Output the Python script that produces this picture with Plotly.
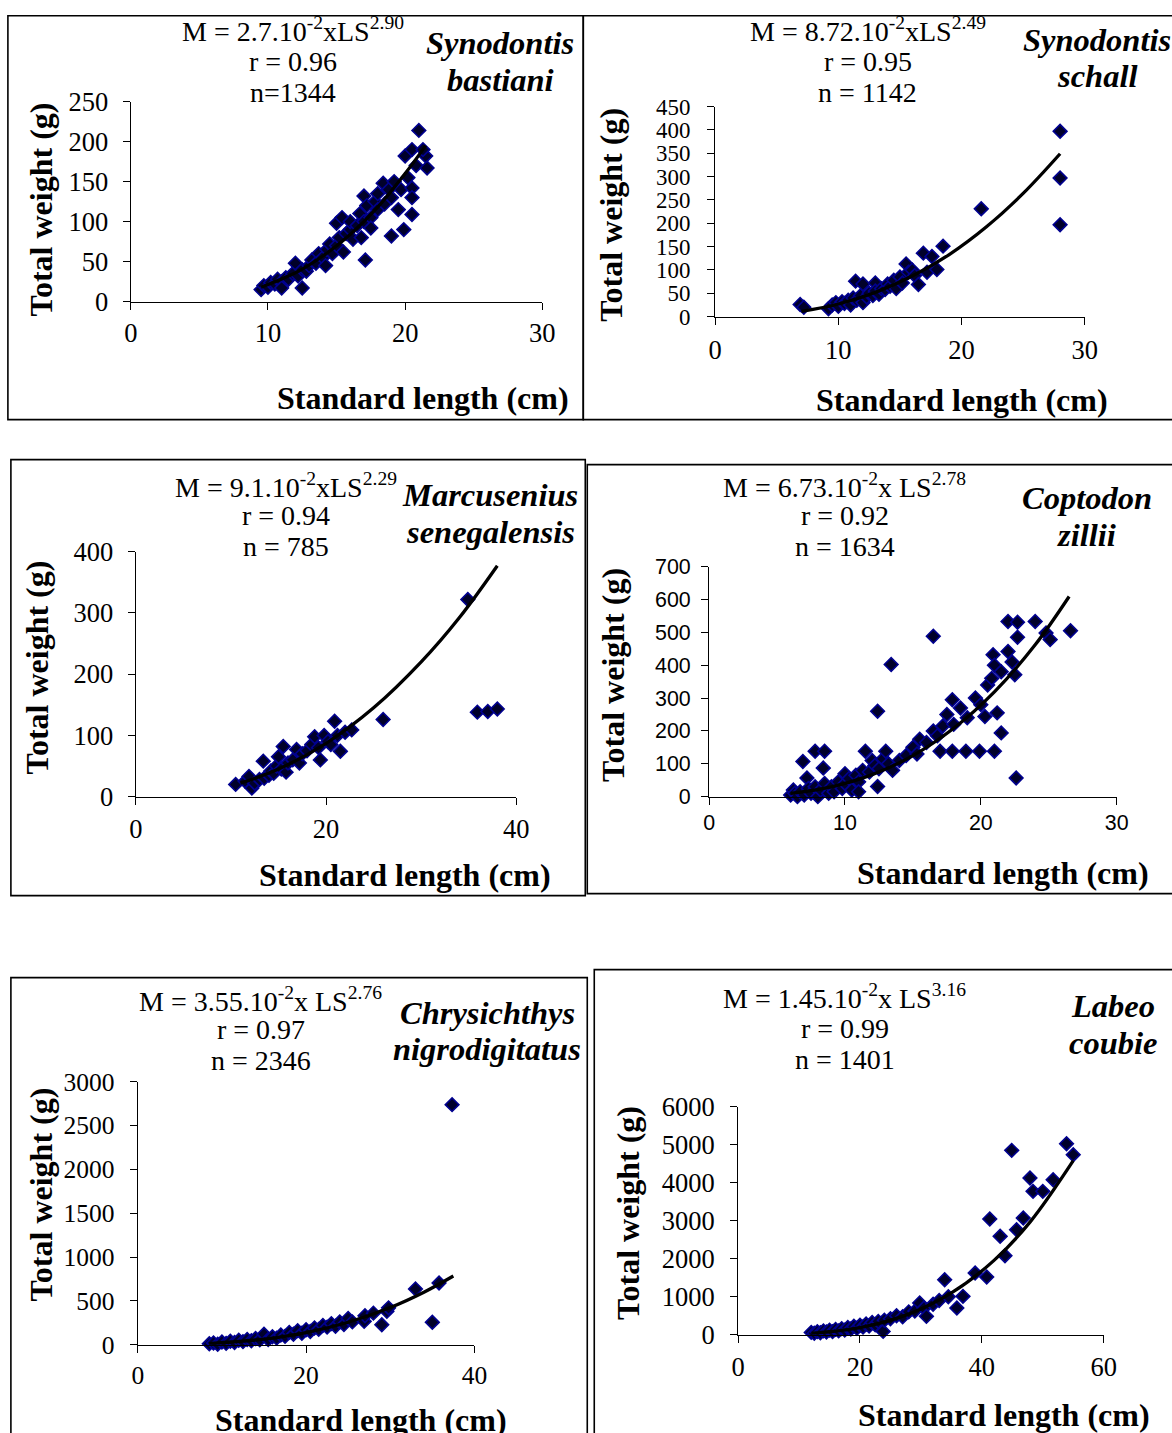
import plotly.graph_objects as go

W, H = 1172, 1433

# ---------------- DATA ----------------
# Panel 1: Synodontis bastiani
p1_x = [9.5, 9.7, 10.0, 10.2, 10.5, 10.7, 11.0, 11.0, 11.3, 11.5, 11.8, 12.0, 12.2, 12.5, 12.5, 12.8, 13.0, 13.2,
        13.5, 13.7, 14.0, 14.2, 14.3, 14.5, 14.7, 15.0, 15.0, 15.2, 15.4, 15.5, 15.7, 16.0, 16.0, 16.2, 16.5, 16.7,
        16.8, 17.0, 17.0, 17.1, 17.2, 17.5, 17.5, 17.8, 18.0, 18.0, 18.4, 18.5, 18.8, 19.0, 19.0, 19.2, 19.5, 19.7,
        19.9, 20.0, 20.2, 20.5, 20.5, 20.5, 20.5, 20.8, 21.0, 21.5, 21.6, 21.3]
p1_y = [15, 20, 18, 24, 22, 28, 25, 17, 30, 28, 35, 48, 32, 17, 40, 38, 45, 52,
        48, 60, 55, 45, 65, 72, 60, 70, 98, 80, 105, 62, 85, 90, 100, 78, 95, 110,
        80, 132, 100, 52, 120, 105, 92, 125, 115, 135, 148, 122, 140, 82, 130, 150, 115, 140,
        90, 182, 155, 190, 142, 130, 109, 170, 214, 182, 167, 190]
p1_fit_x = [9.5, 12, 14, 16, 18, 20, 21.5]
p1_fit_y = [18, 36, 57, 84, 118, 160, 195]

# Panel 2: Synodontis schall
p2_x = [6.9, 7.2, 9.2, 9.5, 9.8, 10.0, 10.3, 10.5, 10.8, 11.0, 11.2, 11.4, 11.5, 11.8, 12.0, 12.0, 12.3, 12.5,
        12.8, 13.0, 13.0, 13.3, 13.5, 13.8, 14.0, 14.2, 14.5, 14.7, 15.0, 15.2, 15.5, 15.7, 16.0, 16.2, 16.5,
        16.9, 17.2, 17.6, 18.0, 18.5, 21.6, 28.0, 28.0, 28.0]
p2_y = [26, 20, 17, 25, 30, 22, 32, 28, 35, 25, 40, 76, 35, 45, 70, 30, 42, 50,
        45, 72, 55, 48, 60, 58, 70, 65, 78, 60, 85, 72, 113, 95, 100, 88, 69,
        136, 95, 129, 101, 151, 231, 397, 297, 197]
p2_fit_x = [7, 10, 13, 16, 19, 22, 25, 28]
p2_fit_y = [11, 27, 52, 87, 133, 192, 264, 349]

# Panel 3: Marcusenius senegalensis
p3_x = [10.5, 11.5, 11.9, 12.2, 12.5, 13.0, 13.4, 13.5, 14.0, 14.2, 14.5, 14.8, 15.0, 15.3, 15.5, 15.8, 16.0,
        16.5, 16.9, 17.2, 17.5, 18.0, 18.5, 18.8, 19.2, 19.4, 19.8, 20.2, 20.5, 20.9, 21.2, 21.5, 22.0, 22.7,
        26.0, 34.9, 35.9, 37.0, 38.0]
p3_y = [20, 25, 33, 14, 22, 28, 58, 30, 35, 42, 38, 50, 65, 45, 82, 40, 55,
        60, 77, 55, 70, 75, 85, 98, 80, 60, 100, 90, 85, 123, 100, 74, 105, 109,
        126, 322, 138, 139, 143]
p3_fit_x = [11, 15, 20, 25, 30, 34, 38]
p3_fit_y = [22, 45, 87, 145, 220, 292, 377]

# Panel 4: Coptodon zillii
p4_x = [6.0, 6.2, 6.3, 6.5, 6.7, 6.9, 7.0, 7.2, 7.3, 7.5, 7.8, 7.8, 8.0, 8.2, 8.4, 8.5, 8.5, 8.8, 9.0, 9.2,
        9.5, 9.8, 10.0, 10.0, 10.3, 10.5, 10.8, 11.0, 11.0, 11.3, 11.5, 11.8, 12.0, 12.2, 12.4, 12.4, 12.5,
        12.8, 13.0, 13.2, 13.4, 13.5, 14.0, 14.5, 15.0, 15.3, 15.5, 16.0, 16.5, 16.5, 16.8, 17.0, 17.2, 17.5,
        17.9, 17.9, 18.0, 18.5, 18.9, 19.0, 19.6, 19.9, 20.0, 20.3, 20.5, 20.8, 20.9, 21.0, 21.0, 21.2, 21.5,
        21.5, 22.0, 22.0, 22.5, 22.6, 22.7, 22.7, 22.3, 24.0, 24.8, 25.1, 26.6]
p4_y = [5, 20, 10, 0, 15, 107, 5, 57, 25, 10, 138, 30, 0, 20, 87, 138, 40, 10, 30, 15,
        45, 25, 70, 40, 55, 20, 65, 45, 15, 80, 138, 75, 110, 95, 31, 260, 85,
        115, 138, 100, 402, 80, 110, 125, 150, 130, 175, 165, 488, 200, 185, 138, 215, 250,
        138, 295, 220, 270, 138, 240, 300, 138, 280, 244, 340, 360, 432, 138, 400, 255, 194,
        380, 442, 533, 371, 57, 485, 531, 410, 533, 498, 478, 505]
p4_fit_x = [6, 9, 12, 15, 18, 21, 24, 26.5]
p4_fit_y = [10, 30, 67, 125, 208, 319, 462, 609]

# Panel 5: Chrysichthys nigrodigitatus
p5_x = [8.5, 9.0, 9.5, 10, 10.5, 11, 11.5, 12, 12.5, 13, 13.5, 14, 14.5, 15, 15.5, 16, 16.5, 17, 17.5, 18,
        18.5, 19, 19.5, 20, 20.5, 21, 21.5, 22, 22.5, 23, 23.5, 24, 24.5, 25, 25.5, 26.9, 27, 28, 29, 29.6,
        29.8, 33, 35, 35.8, 37.35]
p5_y = [10, 20, 5, 30, 15, 40, 25, 50, 35, 60, 45, 70, 55, 120, 60, 90, 75, 110, 95, 140,
        120, 160, 130, 170, 150, 190, 175, 220, 200, 240, 210, 260, 230, 300, 260, 266, 330, 360, 228, 380,
        420, 635, 255, 703, 2738]
p5_fit_x = [8.5, 15, 20, 25, 30, 34, 37.5]
p5_fit_y = [13, 63, 138, 256, 424, 599, 784]

# Panel 6: Labeo coubie
p6_x = [12, 12.5, 13, 13.5, 14, 14.5, 15, 15.5, 16, 16.5, 17, 17.5, 18, 18.5, 19, 19.5, 20, 20.5, 21, 21.5,
        22, 22.5, 23, 23.8, 24, 25, 26, 27, 28, 29, 29.8, 30.5, 30.9, 32, 33, 33.9, 34.5, 35.9, 36.9, 38.9,
        40.8, 41.3, 43, 43.8, 44.9, 45.7, 46.8, 47.9, 48.4, 50, 51.7, 53.9, 55]
p6_y = [60, 40, 80, 50, 100, 70, 120, 80, 140, 100, 160, 120, 190, 150, 220, 170, 250, 200, 280, 230,
        320, 260, 350, 87, 380, 420, 500, 470, 600, 620, 834, 700, 482, 800, 900, 1447, 1000, 702, 1009, 1623,
        1518, 3044, 2588, 2079, 4850, 2763, 3070, 4123, 3772, 3772, 4079, 5026, 4737]
p6_fit_x = [12, 20, 28, 35, 42, 48, 55]
p6_fit_y = [37, 187, 542, 1098, 1955, 2981, 4578]

# Tick values per panel
p1_xticks, p1_yticks = [0, 10, 20, 30], [0, 50, 100, 150, 200, 250]
p2_xticks, p2_yticks = [0, 10, 20, 30], [0, 50, 100, 150, 200, 250, 300, 350, 400, 450]
p3_xticks, p3_yticks = [0, 20, 40], [0, 100, 200, 300, 400]
p4_xticks, p4_yticks = [0, 10, 20, 30], [0, 100, 200, 300, 400, 500, 600, 700]
p5_xticks, p5_yticks = [0, 20, 40], [0, 500, 1000, 1500, 2000, 2500, 3000]
p6_xticks, p6_yticks = [0, 20, 40, 60], [0, 1000, 2000, 3000, 4000, 5000, 6000]

# Texts
equations = ["M = 2.7.10<sup>-2</sup>xLS<sup>2.90</sup>", "M = 8.72.10<sup>-2</sup>xLS<sup>2.49</sup>",
             "M = 9.1.10<sup>-2</sup>xLS<sup>2.29</sup>", "M = 6.73.10<sup>-2</sup>x LS<sup>2.78</sup>",
             "M = 3.55.10<sup>-2</sup>x LS<sup>2.76</sup>", "M = 1.45.10<sup>-2</sup>x LS<sup>3.16</sup>"]
r_values = ["r = 0.96", "r = 0.95", "r = 0.94", "r = 0.92", "r = 0.97", "r = 0.99"]
n_values = ["n=1344", "n = 1142", "n = 785", "n = 1634", "n = 2346", "n = 1401"]
species_1 = ["Synodontis", "Synodontis", "Marcusenius", "Coptodon", "Chrysichthys", "Labeo"]
species_2 = ["bastiani", "schall", "senegalensis", "zillii", "nigrodigitatus", "coubie"]
x_title = "Standard length (cm)"
y_title = "Total weight (g)"

SERIF = "Liberation Serif, Times New Roman, serif"
SANS = "Liberation Sans, Arial, sans-serif"

# ---------------- LAYOUT GEOMETRY (target picture pixels) ----------------
panels = [
    dict(x=p1_x, y=p1_y, fx=p1_fit_x, fy=p1_fit_y, xt=p1_xticks, yt=p1_yticks,
         ax=(130, 542), ay=(302, 102), box=(7, 7, 583, 420),
         eq=(292, 30, 62, 93), sp=(500, 43, 80), xtl=(423, 398), ytl=(40, 210),
         tfont=SERIF, xsize=26, ysize=26, xsoff=0, ysoff=9),
    dict(x=p2_x, y=p2_y, fx=p2_fit_x, fy=p2_fit_y, xt=p2_xticks, yt=p2_yticks,
         ax=(715, 1085), ay=(317, 107), box=(583, 7, 1200, 420),
         eq=(868, 30, 62, 93), sp=(1097, 40, 76), xtl=(962, 400), ytl=(610, 215),
         tfont=SERIF, xsize=26, ysize=22.5, xsoff=2, ysoff=12),
    dict(x=p3_x, y=p3_y, fx=p3_fit_x, fy=p3_fit_y, xt=p3_xticks, yt=p3_yticks,
         ax=(135, 516), ay=(797, 552), box=(10, 460, 585, 896),
         eq=(285, 486, 516, 547), sp=(490, 495, 532), xtl=(405, 875), ytl=(36, 668),
         tfont=SERIF, xsize=26, ysize=26, xsoff=1, ysoff=9),
    dict(x=p4_x, y=p4_y, fx=p4_fit_x, fy=p4_fit_y, xt=p4_xticks, yt=p4_yticks,
         ax=(709, 1117), ay=(797, 567), box=(587, 465, 1200, 894),
         eq=(845, 486, 516, 547), sp=(1087, 498, 535), xtl=(1003, 873), ytl=(612, 675),
         tfont=SANS, xsize=21, ysize=21, xsoff=0, ysoff=6),
    dict(x=p5_x, y=p5_y, fx=p5_fit_x, fy=p5_fit_y, xt=p5_xticks, yt=p5_yticks,
         ax=(137, 474), ay=(1345, 1082), box=(10, 978, 587, 1480),
         eq=(260, 1000, 1030, 1061), sp=(487, 1013, 1049), xtl=(360, 1420), ytl=(40, 1195),
         tfont=SERIF, xsize=25, ysize=25, xsoff=1, ysoff=10),
    dict(x=p6_x, y=p6_y, fx=p6_fit_x, fy=p6_fit_y, xt=p6_xticks, yt=p6_yticks,
         ax=(738, 1104), ay=(1335, 1107), box=(594, 970, 1200, 1480),
         eq=(845, 997, 1029, 1060), sp=(1113, 1006, 1043), xtl=(1004, 1415), ytl=(627, 1213),
         tfont=SERIF, xsize=26, ysize=26, xsoff=1, ysoff=10),
]

# the photographed page comes back slightly reduced and shifted; place things so they land on target
SX, OX, SY, OY = 0.984, 6.1, 0.979, 15.4
FS = 1.0 / 0.981


def fx(p):
    return ((p - OX) / SX) / W


def fy(p):
    v = (p - OY) / SY
    return 1 - v / H


def fyc(p):
    # clamp into the canvas for frame lines
    v = min(max((p - OY) / SY, 0.8), H + 40)
    return 1 - v / H


fig = go.Figure()
layout = dict(width=W, height=H, margin=dict(l=0, r=0, t=0, b=0), autosize=False,
              paper_bgcolor="white", plot_bgcolor="white", showlegend=False)
annotations = []
shapes = []

for i, p in enumerate(panels):
    k = "" if i == 0 else str(i + 1)
    xr = [0, p["xt"][-1]]
    yr = [0, p["yt"][-1]]
    fig.add_trace(go.Scatter(x=p["x"], y=p["y"], mode="markers", xaxis="x" + k, yaxis="y" + k,
                             marker=dict(symbol="diamond", size=10.5, color="#00002a",
                                         line=dict(color="#000090", width=1.6)),
                             cliponaxis=False))
    fig.add_trace(go.Scatter(x=p["fx"], y=p["fy"], mode="lines", xaxis="x" + k, yaxis="y" + k,
                             line=dict(color="black", width=3.3, shape="spline"), cliponaxis=False))
    xtickfont = dict(family=p["tfont"], size=round(p["xsize"] * FS, 1), color="black")
    ytickfont = dict(family=p["tfont"], size=round(p["ysize"] * FS, 1), color="black")
    layout["xaxis" + k] = dict(domain=[fx(p["ax"][0]), fx(p["ax"][1])], range=xr, anchor="y" + k,
                               tickmode="array", tickvals=p["xt"], showgrid=False, zeroline=False,
                               showline=True, linecolor="black", linewidth=1.2, ticks="outside",
                               ticklen=7, tickcolor="black", tickwidth=1.2, tickfont=xtickfont,
                               ticklabelstandoff=p["xsoff"], fixedrange=True)
    layout["yaxis" + k] = dict(domain=[fy(p["ay"][0]), fy(p["ay"][1])], range=yr, anchor="x" + k,
                               tickmode="array", tickvals=p["yt"], showgrid=False, zeroline=False,
                               showline=True, linecolor="black", linewidth=1.2, ticks="outside",
                               ticklen=7, tickcolor="black", tickwidth=1.2, tickfont=ytickfont,
                               ticklabelstandoff=p["ysoff"], fixedrange=True)
    # frame
    bx0, by0, bx1, by1 = p["box"]
    shapes.append(dict(type="rect", xref="paper", yref="paper", x0=fx(bx0), x1=fx(bx1),
                       y0=fyc(by0), y1=fyc(by1), line=dict(color="black", width=1.6)))
    # equation block
    ex, e1, e2, e3 = p["eq"]
    for txt, yy in zip([equations[i], r_values[i], n_values[i]], [e1, e2, e3]):
        annotations.append(dict(text=txt, x=fx(ex), y=fy(yy), xref="paper", yref="paper",
                                showarrow=False, xanchor="center", yanchor="middle",
                                font=dict(family=SERIF, size=28, color="black")))
    # species names
    sx, s1, s2 = p["sp"]
    for txt, yy in zip([species_1[i], species_2[i]], [s1, s2]):
        annotations.append(dict(text="<b><i>" + txt + "</i></b>", x=fx(sx), y=fy(yy), xref="paper",
                                yref="paper", showarrow=False, xanchor="center", yanchor="middle",
                                font=dict(family=SERIF, size=32.5, color="black")))
    # axis titles
    annotations.append(dict(text="<b>" + x_title + "</b>", x=fx(p["xtl"][0]), y=fy(p["xtl"][1]),
                            xref="paper", yref="paper", showarrow=False, xanchor="center",
                            yanchor="middle", font=dict(family=SERIF, size=32, color="black")))
    annotations.append(dict(text="<b>" + y_title + "</b>", x=fx(p["ytl"][0]), y=fy(p["ytl"][1]),
                            xref="paper", yref="paper", showarrow=False, xanchor="center",
                            yanchor="middle", textangle=-90,
                            font=dict(family=SERIF, size=32, color="black")))

layout["annotations"] = annotations
layout["shapes"] = shapes
fig.update_layout(**layout)

# pin the graph to the top-left corner of the page (no body margin / scroll offset)
pin_js = ("document.documentElement.style.margin='0';document.body.style.margin='0';"
          "document.body.style.padding='0';document.documentElement.style.overflow='hidden';"
          "document.body.style.overflow='hidden';"
          "var g=document.getElementById('{plot_id}');g.style.position='fixed';"
          "g.style.left='0px';g.style.top='0px';")
fig.write_html("out.html", post_script=pin_js, config={"displayModeBar": False})
